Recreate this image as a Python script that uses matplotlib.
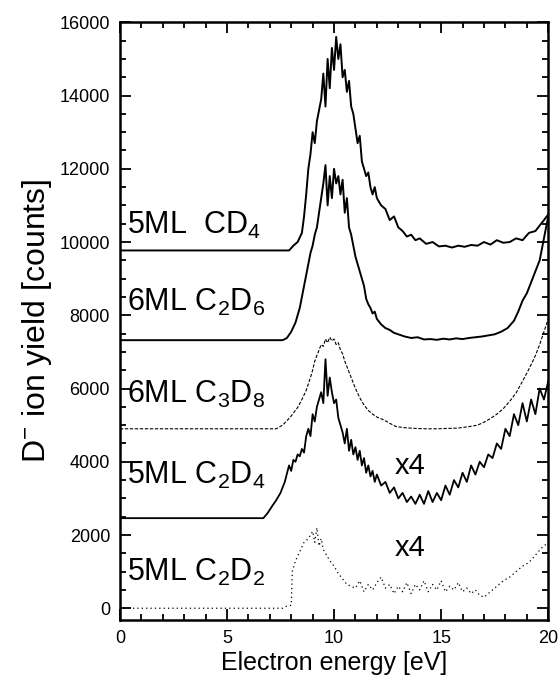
import numpy as np
import matplotlib
matplotlib.use("Agg")
import matplotlib.pyplot as plt
from matplotlib.ticker import MultipleLocator

plt.rcParams['font.family'] = ['Liberation Sans', 'DejaVu Sans']
plt.rcParams['mathtext.fontset'] = 'custom'
plt.rcParams['mathtext.rm'] = 'Liberation Sans'
plt.rcParams['mathtext.default'] = 'regular'

# 5ML CD4
e_cd4 = [0, 7.9, 8.1, 8.3, 8.5, 8.6, 8.7, 8.8, 8.9, 9.0, 9.1, 9.2, 9.3, 9.4, 9.5, 9.6, 9.7, 9.8,
         9.9, 10.0, 10.1, 10.2, 10.3, 10.4, 10.5, 10.6, 10.7, 10.8, 10.9, 11.0, 11.1, 11.2, 11.3,
         11.4, 11.5, 11.6, 11.7, 11.8, 11.9, 12.0, 12.2, 12.4, 12.6, 12.8, 13.0, 13.2, 13.4, 13.6,
         13.8, 14.0, 14.3, 14.6, 14.9, 15.2, 15.5, 15.8, 16.1, 16.4, 16.7, 17.0, 17.3, 17.6, 17.9,
         18.2, 18.5, 18.8, 19.1, 19.4, 19.6, 19.8, 20.0]
y_cd4 = [9770, 9770, 9900, 10000, 10250, 10700, 11300, 12000, 12400, 13000, 12700, 13300, 13600,
         13900, 14600, 13700, 15000, 14200, 15300, 14700, 15600, 15000, 15400, 14500, 14700, 14100,
         14400, 13700, 13500, 13100, 12700, 12900, 12200, 12000, 11800, 11900, 11500, 11300, 11500,
         11200, 11000, 10900, 10600, 10700, 10400, 10300, 10150, 10200, 10050, 10100, 9950, 10000,
         9880, 9900, 9850, 9900, 9870, 9920, 9900, 10000, 9930, 10050, 9980, 10000, 10100, 10050,
         10250, 10300, 10450, 10600, 10750]

# 6ML C2D6
e_c2d6 = [0, 7.6, 7.8, 8.0, 8.2, 8.4, 8.5, 8.6, 8.7, 8.8, 8.9, 9.0, 9.1, 9.2, 9.3, 9.4, 9.5, 9.6,
          9.7, 9.8, 9.9, 10.0, 10.1, 10.2, 10.3, 10.4, 10.5, 10.6, 10.7, 10.8, 10.9, 11.0, 11.1,
          11.2, 11.3, 11.4, 11.5, 11.6, 11.7, 11.8, 11.9, 12.0, 12.2, 12.4, 12.6, 12.8, 13.0, 13.3,
          13.6, 13.9, 14.2, 14.5, 14.8, 15.1, 15.4, 15.7, 16.0, 16.3, 16.6, 16.9, 17.2, 17.5, 17.8,
          18.1, 18.4, 18.6, 18.8, 19.0, 19.2, 19.4, 19.6, 19.8, 20.0]
y_c2d6 = [7320, 7320, 7380, 7550, 7800, 8200, 8500, 8800, 9100, 9400, 9700, 9900, 10200, 10400,
          10800, 11200, 11600, 12100, 11000, 11800, 11200, 12000, 11600, 11800, 11300, 11700,
          10800, 11200, 10400, 10200, 9900, 9600, 9400, 9200, 9000, 8800, 8450, 8300, 8200, 8050,
          8100, 7900, 7750, 7650, 7600, 7520, 7480, 7420, 7380, 7400, 7340, 7350, 7330, 7360, 7340,
          7370, 7350, 7380, 7400, 7420, 7450, 7480, 7550, 7650, 7850, 8100, 8400, 8600, 8900, 9200,
          9500, 10100, 10700]

# 6ML C3D8
e_c3d8 = [0, 7.3, 7.6, 7.8, 8.0, 8.3, 8.5, 8.7, 8.9, 9.0, 9.1, 9.2, 9.3, 9.4, 9.5, 9.6, 9.7, 9.8,
          9.9, 10.0, 10.1, 10.2, 10.3, 10.4, 10.5, 10.6, 10.7, 10.8, 10.9, 11.0, 11.2, 11.4, 11.6,
          11.8, 12.0, 12.3, 12.6, 12.9, 13.3, 13.8, 14.3, 14.8, 15.3, 15.8, 16.3, 16.7, 17.0, 17.3,
          17.6, 17.9, 18.2, 18.5, 18.8, 19.0, 19.2, 19.4, 19.6, 19.8, 20.0]
y_c3d8 = [4900, 4900, 5000, 5120, 5250, 5480, 5700, 5950, 6300, 6500, 6750, 6900, 7050, 7200,
          7150, 7350, 7250, 7400, 7300, 7350, 7200, 7250, 7050, 6950, 6750, 6600, 6450, 6300, 6150,
          6000, 5750, 5550, 5400, 5300, 5220, 5150, 5050, 4960, 4930, 4910, 4900, 4900, 4910, 4920,
          4960, 5000, 5080, 5180, 5300, 5450, 5650, 5880, 6200, 6420, 6650, 6900, 7200, 7550, 7900]

# 5ML C2D4 (x4)
e_c2d4 = [0, 6.7, 6.9, 7.1, 7.3, 7.5, 7.7, 7.9, 8.0, 8.1, 8.2, 8.3, 8.4, 8.5, 8.6, 8.7, 8.8, 8.9,
          9.0, 9.1, 9.2, 9.3, 9.4, 9.5, 9.6, 9.7, 9.8, 9.9, 10.0, 10.1, 10.2, 10.3, 10.4, 10.5,
          10.6, 10.7, 10.8, 10.9, 11.0, 11.1, 11.2, 11.3, 11.4, 11.5, 11.6, 11.7, 11.8, 11.9, 12.0,
          12.2, 12.4, 12.6, 12.8, 13.0, 13.2, 13.4, 13.6, 13.8, 14.0, 14.2, 14.4, 14.6, 14.8, 15.0,
          15.2, 15.4, 15.6, 15.8, 16.0, 16.2, 16.4, 16.6, 16.8, 17.0, 17.2, 17.4, 17.6, 17.8, 18.0,
          18.2, 18.4, 18.6, 18.8, 19.0, 19.2, 19.4, 19.6, 19.8, 20.0]
y_c2d4 = [2460, 2460, 2600, 2780, 2950, 3150, 3450, 3900, 3750, 4050, 4000, 4200, 4150, 4350,
          4250, 4700, 4900, 4700, 5300, 5100, 5500, 5700, 5900, 5600, 6800, 5800, 6300, 5900, 5600,
          5700, 5200, 5000, 4800, 4500, 4900, 4300, 4600, 4200, 4400, 4050, 4300, 3900, 4100, 3700,
          3900, 3600, 3750, 3450, 3650, 3350, 3450, 3150, 3300, 3000, 3150, 2900, 3050, 2850, 3100,
          2850, 3200, 2900, 3150, 2950, 3350, 3100, 3500, 3300, 3700, 3450, 3900, 3650, 4000, 3850,
          4200, 4100, 4500, 4350, 4900, 4700, 5300, 5000, 5600, 5100, 5700, 5300, 6000, 5700, 6200]

# 5ML C2D2 (x4)
e_c2d2 = [0, 7.6, 7.8, 8.0, 8.05, 8.2, 8.4, 8.6, 8.8, 9.0, 9.1, 9.2, 9.3, 9.4, 9.5, 9.6, 9.7, 9.8,
          10.0, 10.2, 10.4, 10.6, 10.8, 11.0, 11.2, 11.4, 11.6, 11.8, 12.0, 12.2, 12.4, 12.6,
          12.8, 13.0, 13.2, 13.4, 13.6, 13.8, 14.0, 14.2, 14.4, 14.6, 14.8, 15.0, 15.2, 15.4,
          15.6, 15.8, 16.0, 16.2, 16.4, 16.6, 16.8, 17.0, 17.3, 17.6, 17.9, 18.2, 18.5, 18.8,
          19.1, 19.4, 19.7, 20.0]
y_c2d2 = [0, 0, 60, 80, 1000, 1300, 1550, 1800, 1900, 2100, 1800, 2200, 1700, 1900, 1600, 1500,
          1400, 1300, 1150, 950, 800, 650, 600, 550, 750, 450, 650, 500, 700, 850, 550, 650,
          400, 600, 450, 700, 400, 650, 500, 750, 450, 650, 500, 750, 450, 600, 500, 700, 450,
          550, 400, 500, 350, 300, 450, 600, 750, 850, 1000, 1150, 1250, 1450, 1650, 1800]

fig = plt.figure(figsize=(5.6, 6.97), dpi=100)
ax = fig.add_axes([0.214, 0.110, 0.765, 0.858])

ax.plot(e_cd4, y_cd4, color='black', lw=1.4)
ax.plot(e_c2d6, y_c2d6, color='black', lw=1.4)
ax.plot(e_c3d8, y_c3d8, color='black', lw=0.8, ls=(0, (3, 1.5)))
ax.plot(e_c2d4, y_c2d4, color='black', lw=1.3)
ax.plot(e_c2d2, y_c2d2, color='black', lw=0.9, ls=(0, (1, 2.5)))

lab_kw = dict(fontsize=22, va='center', ha='left')
ax.text(0.35, 10460, '5ML  CD$_4$', **lab_kw)
ax.text(0.35, 8350, '6ML C$_2$D$_6$', **lab_kw)
ax.text(0.35, 5840, '6ML C$_3$D$_8$', **lab_kw)
ax.text(0.35, 3630, '5ML C$_2$D$_4$', **lab_kw)
ax.text(0.35, 980, '5ML C$_2$D$_2$', **lab_kw)
ax.text(13.55, 3880, 'x4', fontsize=21, va='center', ha='center')
ax.text(13.55, 1640, 'x4', fontsize=21, va='center', ha='center')

ax.set_xlim(0, 20)
ax.set_ylim(-330, 16000)
ax.xaxis.set_major_locator(MultipleLocator(5))
ax.xaxis.set_minor_locator(MultipleLocator(1))
ax.yaxis.set_major_locator(MultipleLocator(2000))
ax.yaxis.set_minor_locator(MultipleLocator(500))
ax.tick_params(which='both', direction='in', top=True, right=True, labelsize=13, width=1.3)
ax.tick_params(which='major', length=8, pad=7)
ax.tick_params(which='minor', length=4)
for s in ax.spines.values():
    s.set_linewidth(1.8)

ax.set_xlabel('Electron energy [eV]', fontsize=18, labelpad=3)
ax.set_ylabel('D$^{-}$ ion yield [counts]', fontsize=23, labelpad=4)

fig.savefig('out.png', dpi=100)
